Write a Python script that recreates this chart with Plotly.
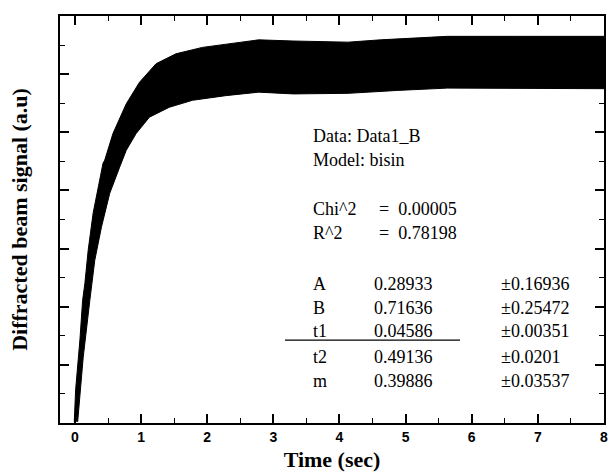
import plotly.graph_objects as go

# ---- data ----
# upper envelope of the fast-oscillating signal band
upper_t = [-0.01, 0.01, 0.075, 0.116, 0.15, 0.20, 0.275, 0.425, 0.45, 0.575, 0.776,
           0.976, 1.227, 1.527, 1.927, 2.377, 2.778, 3.3, 4.13, 4.62, 5.63, 6.63, 8.0]
upper_v = [0.002, 0.057, 0.143, 0.211, 0.240, 0.297, 0.361, 0.447, 0.452, 0.498, 0.549,
           0.586, 0.618, 0.635, 0.646, 0.653, 0.659, 0.657, 0.655, 0.659, 0.665, 0.665, 0.665]
# lower envelope
lower_t = [0.041, 0.125, 0.225, 0.30, 0.401, 0.526, 0.676, 0.776, 0.926, 1.126, 1.426,
           1.776, 2.278, 2.778, 3.3, 4.13, 4.88, 5.63, 6.63, 8.0]
lower_v = [0.002, 0.113, 0.211, 0.280, 0.337, 0.395, 0.440, 0.469, 0.498, 0.526, 0.543,
           0.555, 0.563, 0.569, 0.566, 0.567, 0.572, 0.576, 0.575, 0.575]

x_ticks = [0, 1, 2, 3, 4, 5, 6, 7, 8]

data_name = "Data1_B"
model_name = "bisin"
chi2 = "0.00005"
r2 = "0.78198"
param_names = ["A", "B", "t1", "t2", "m"]
param_values = ["0.28933", "0.71636", "0.04586", "0.49136", "0.39886"]
param_errors = ["0.16936", "0.25472", "0.00351", "0.0201", "0.03537"]

# ---- figure ----
W, H = 611, 475
L, R, T, B = 60, 604, 15.5, 423


def px(x):
    return (x - L) / (R - L)


def py(y):
    return (B - y) / (B - T)


fig = go.Figure()
fig.add_trace(go.Scatter(
    x=upper_t + lower_t[::-1],
    y=upper_v + lower_v[::-1],
    mode="lines",
    fill="toself",
    fillcolor="black",
    line=dict(color="black", width=1),
    showlegend=False,
    hoverinfo="skip",
))

serif = "Liberation Serif"
tf = dict(family=serif, size=18, color="black")
ann = []


def add_text(x, y, s):
    ann.append(dict(x=px(x), y=py(y), xref="paper", yref="paper", text=s,
                    showarrow=False, xanchor="left", yanchor="middle", font=tf))


add_text(311, 136, "Data: " + data_name)
add_text(311, 160, "Model: " + model_name)
add_text(311, 209, "Chi^2")
add_text(377, 209, "=  " + chi2)
add_text(311, 233, "R^2")
add_text(377, 233, "=  " + r2)
rows_y = [284, 307.5, 331, 357, 381]
for name, val, err, yy in zip(param_names, param_values, param_errors, rows_y):
    add_text(311, yy, name)
    add_text(372, yy, val)
    add_text(499, yy, "\u00b1" + err)

fig.update_layout(
    width=W, height=H,
    margin=dict(l=L, r=W - R, t=T, b=H - B),
    paper_bgcolor="white",
    plot_bgcolor="white",
    annotations=ann,
    shapes=[dict(type="line", xref="paper", yref="paper",
                 x0=px(285), x1=px(460), y0=py(340), y1=py(340),
                 line=dict(color="black", width=1.2))],
)

fig.update_xaxes(
    range=[-0.226, 8.0],
    automargin=False,
    ticklabeloverflow="allow",
    tickmode="array", tickvals=x_ticks, ticktext=[str(v) for v in x_ticks],
    ticks="inside", ticklen=9, tickwidth=1.5, tickcolor="black",
    minor=dict(dtick=0.5, ticks="inside", ticklen=5, tickwidth=1.2, tickcolor="black"),
    showline=True, linecolor="black", linewidth=1.5, mirror="ticks",
    showgrid=False, zeroline=False,
    tickfont=dict(family="Liberation Sans", size=14, color="black", weight="bold"),
    title=dict(text="Time (sec)", font=dict(family=serif, size=22, color="black", weight="bold"),
               standoff=8),
)
fig.update_yaxes(
    range=[0, 0.7],
    automargin=False,
    dtick=0.1, tick0=0,
    ticks="inside", ticklen=9, tickwidth=1.5, tickcolor="black",
    minor=dict(dtick=0.05, ticks="inside", ticklen=5, tickwidth=1.2, tickcolor="black"),
    showticklabels=False,
    showline=True, linecolor="black", linewidth=1.5, mirror="ticks",
    showgrid=False, zeroline=False,
    title=dict(text="Diffracted beam signal (a.u)",
               font=dict(family=serif, size=22, color="black", weight="bold"),
               standoff=25),
)

fig.write_html("out.html", config={"displayModeBar": False},
               post_script="document.body.style.margin='0';")
